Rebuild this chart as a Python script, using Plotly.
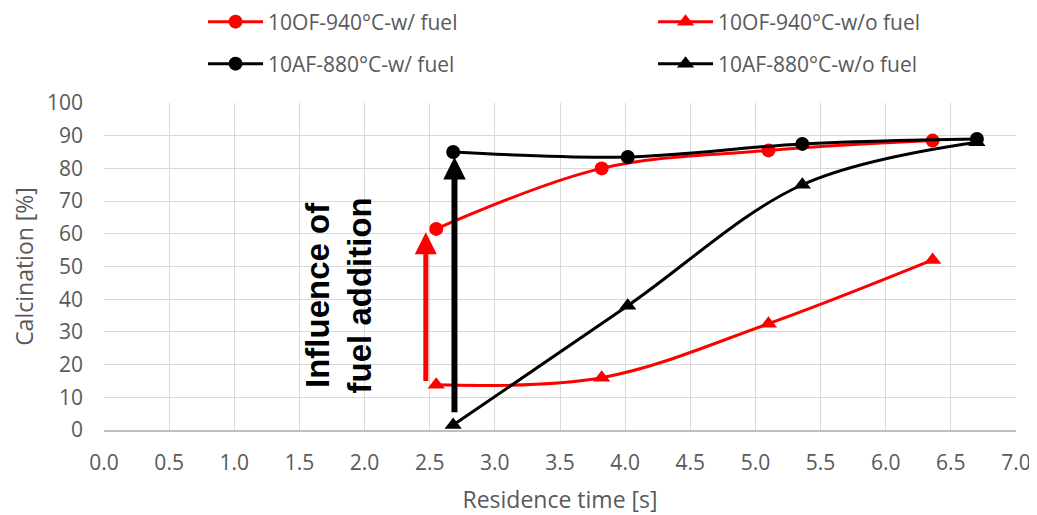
import plotly.graph_objects as go

# Data
x_of = [2.55, 3.82, 5.10, 6.36]
y_of_fuel = [61.5, 80.0, 85.5, 88.5]
y_of_nofuel = [13.8, 16.0, 32.5, 52.0]

x_af = [2.68, 4.02, 5.36, 6.70]
y_af_fuel = [85.0, 83.5, 87.5, 89.0]
y_af_nofuel = [1.5, 38.0, 75.0, 88.0]

names = ["10OF-940°C-w/ fuel", "10OF-940°C-w/o fuel",
         "10AF-880°C-w/ fuel", "10AF-880°C-w/o fuel"]

# Arrow annotation (x, y_start, y_end)
red_arrow = (2.47, 14.5, 60.5)
black_arrow = (2.69, 5.0, 83.5)

RED = "#ff0000"
BLACK = "#000000"
GRAY = "#595959"
FONT = "Open Sans"

fig = go.Figure()
fig.add_trace(go.Scatter(x=x_of, y=y_of_fuel, name=names[0], mode="lines+markers",
                         line=dict(color=RED, width=3, shape="spline"),
                         marker=dict(symbol="circle", size=14, color=RED), legend="legend"))
fig.add_trace(go.Scatter(x=x_of, y=y_of_nofuel, name=names[1], mode="lines+markers",
                         line=dict(color=RED, width=3, shape="spline"),
                         marker=dict(symbol="triangle-up", size=15, color=RED), legend="legend"))
fig.add_trace(go.Scatter(x=x_af, y=y_af_fuel, name=names[2], mode="lines+markers",
                         line=dict(color=BLACK, width=3, shape="spline"),
                         marker=dict(symbol="circle", size=14, color=BLACK), legend="legend2"))
fig.add_trace(go.Scatter(x=x_af, y=y_af_nofuel, name=names[3], mode="lines+markers",
                         line=dict(color=BLACK, width=3, shape="spline"),
                         marker=dict(symbol="triangle-up", size=15, color=BLACK), legend="legend2"))

for (ax_x, y0, y1), col, w, s in [(red_arrow, RED, 5, 0.88), (black_arrow, BLACK, 6, 0.75)]:
    fig.add_annotation(x=ax_x, y=y1, ax=ax_x, ay=y0, xref="x", yref="y",
                       axref="x", ayref="y", showarrow=True, arrowhead=2,
                       arrowsize=s, arrowwidth=w, arrowcolor=col, text="")

fig.add_annotation(x=1.80, y=41, xref="x", yref="y", showarrow=False,
                   text="<b>Influence of<br>fuel addition</b>", textangle=-90,
                   font=dict(family="Liberation Sans", size=33, color=BLACK))

legend_common = dict(orientation="h", xanchor="left", x=0.1086, entrywidth=380,
                     entrywidthmode="pixels", bgcolor="rgba(0,0,0,0)",
                     font=dict(family=FONT, size=21, color=GRAY), yanchor="middle",
                     itemwidth=55)

# the page body adds an 8 px offset, so the figure is 8 px smaller and margins shifted
fig.update_layout(
    width=1029, height=507,
    margin=dict(l=96, r=21, t=95, b=85, autoexpand=False),
    plot_bgcolor="white", paper_bgcolor="white",
    font=dict(family=FONT, color=GRAY),
    legend=dict(**legend_common, y=(422 - 14) / 327),
    legend2=dict(**legend_common, y=(422 - 56) / 327),
    xaxis=dict(range=[0, 7], dtick=0.5, tick0=0, tickformat=".1f",
               showgrid=True, gridcolor="#d9d9d9", gridwidth=1,
               showline=True, linecolor="#bfbfbf", linewidth=1.5, zeroline=False,
               ticks="", ticklabelstandoff=13,
               tickfont=dict(family=FONT, size=21, color=GRAY),
               title=dict(text="Residence time [s]", font=dict(family=FONT, size=23, color=GRAY),
                          standoff=27)),
    yaxis=dict(range=[0, 100], dtick=10, showgrid=True, gridcolor="#d9d9d9", gridwidth=1,
               zeroline=False, showline=False, ticks="", ticklabelstandoff=20,
               tickfont=dict(family=FONT, size=21, color=GRAY),
               title=dict(text="Calcination [%]", font=dict(family=FONT, size=23, color=GRAY),
                          standoff=6)),
)

fig.write_html("out.html")
